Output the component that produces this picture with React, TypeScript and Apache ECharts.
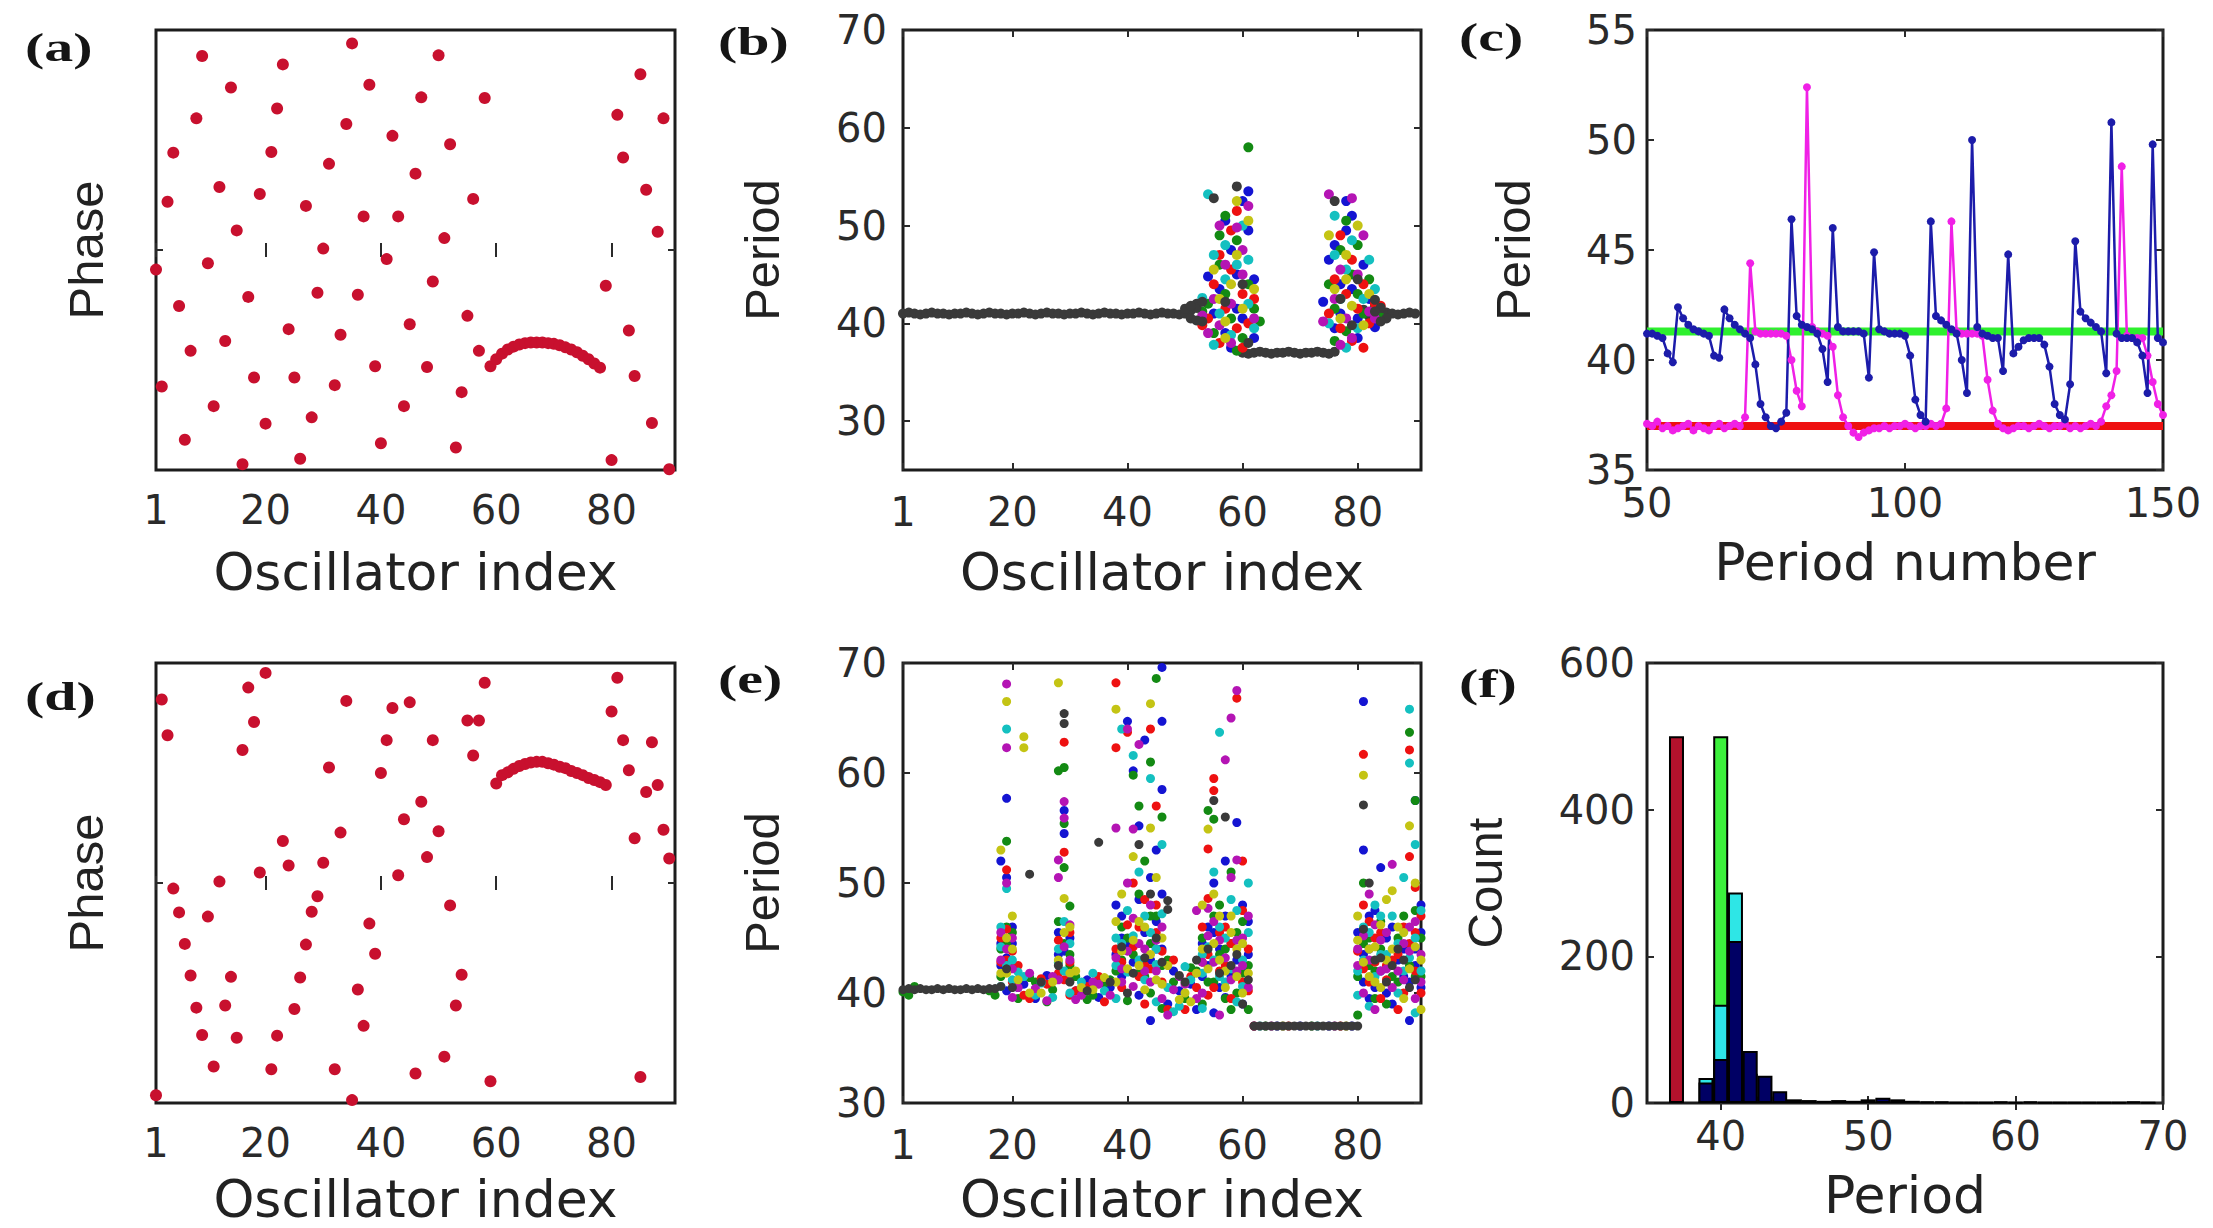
import React, { useEffect, useRef } from "react";
import * as echarts from "echarts";

// ---------------- data ----------------
const oscTicks = [1, 20, 40, 60, 80];
const phaseTicks = [0];
const periodTicksB = [30, 40, 50, 60, 70];
const periodTicksE = [30, 40, 50, 60, 70];
const periodTicksC = [35, 40, 45, 50, 55];
const periodNumTicks = [50, 100, 150];
const histXTicks = [40, 50, 60, 70];
const countTicks = [0, 200, 400, 600];

// (a) phases of oscillators 1..90 (radians)
const phaseA = [
  -0.28, -1.95, 0.69, 1.39, -0.8, -2.71, -1.44, 1.88, 2.77, -0.19,
  -2.23, 0.9, -1.3, 2.32, 0.28, -3.06, -0.67, -1.82, 0.8, -2.48,
  1.4, 2.02, 2.65, -1.13, -1.82, -2.98, 0.63, -2.39, -0.61, 0.02,
  1.23, -1.93, -1.21, 1.8, 2.95, -0.64, 0.48, 2.36, -1.66, -2.76,
  -0.13, 1.63, 0.48, -2.23, -1.06, 1.09, 2.18, -1.67, -0.45, 2.78,
  0.17, 1.51, -2.82, -2.03, -0.94, 0.73, -1.44, 2.17,
  -1.66, -1.56, -1.48, -1.42, -1.38, -1.35, -1.33, -1.32, -1.32, -1.32,
  -1.33, -1.34, -1.36, -1.39, -1.42, -1.46, -1.51, -1.56, -1.62, -1.68,
  -0.51, -3.0, 1.93, 1.32, -1.15, -1.8, 2.51, 0.86, -2.47, 0.26, 1.88, -3.13,
];

// (d) phases of oscillators 1..90 (radians)
const phaseD = [
  -3.03, 2.62, 2.11, -0.08, -0.42, -0.87, -1.32, -1.78, -2.17, -0.48,
  -2.62, 0.02, -1.75, -1.34, -2.21, 1.9, 2.79, 2.3, 0.15, 3.0,
  -2.66, -2.18, 0.6, 0.25, -1.8, -1.35, -0.88, -0.41, -0.19, 0.29,
  1.65, -2.66, 0.72, 2.6, -3.1, -1.52, -2.04, -0.58, -1.01, 1.57,
  2.04, 2.5, 0.11, 0.91, 2.58, -2.72, 1.16, 0.37, 2.04, 0.74,
  -2.48, -0.32, -1.75, -1.31, 2.32, 1.82, 2.32, 2.86, -2.83,
  1.42, 1.54, 1.58, 1.63, 1.67, 1.7, 1.72, 1.73, 1.73, 1.71,
  1.69, 1.66, 1.64, 1.6, 1.57, 1.54, 1.5, 1.47, 1.44, 1.4,
  2.45, 2.93, 2.04, 1.61, 0.64, -2.77, 1.3, 2.01, 1.4, 0.76, 0.35,
];

// (b) periods per oscillator
const bBlackBand = [
  41.0, 41.1, 41.0, 40.9, 41.0, 41.1, 41.0, 41.0, 40.9, 41.0,
  41.0, 41.1, 41.0, 40.9, 41.0, 41.1, 41.0, 41.0, 40.9, 41.0,
  41.0, 41.1, 41.0, 40.9, 41.0, 41.1, 41.0, 41.0, 40.9, 41.0,
  41.0, 41.1, 41.0, 40.9, 41.0, 41.1, 41.0, 41.0, 40.9, 41.0,
  41.0, 41.1, 41.0, 40.9, 41.0, 41.1, 41.0, 41.0, 40.9, 41.0,
  41.3, 41.6, 40.6, null, null, null, null, null, null,
  37.0, 36.9, 37.0, 37.1, 37.0, 36.9, 37.0, 37.0, 37.1, 37.0, 36.9, 37.0, 37.0, 37.1, 37.0, 36.9, 37.1,
  null, null, null, null,
  41.4, 40.7, 41.2, 41.0, 41.1, 41.0, 40.9, 41.0, 41.1, 41.0,
];
const bBlue = [
  [55, 41], [56, 43.5], [57, 39.0], [58, 47.5], [59, 45], [60, 52.5], [61, 49.5], [61, 53.5], [62, 44.5], [62, 38.5], [60, 40.5], [58, 37.5], [57, 50.5], [59, 41.5], [53, 40.2], [54, 44.8],
  [75, 46.5], [76, 39.5], [77, 44], [78, 52.5], [78, 49.5], [79, 51], [79, 43.5], [80, 38.5], [81, 46], [77, 41], [80, 40.5], [82, 42.5], [76, 48], [83, 39.6], [74, 42.2],
];
const bGreen = [
  [54, 42], [55, 39], [56, 46], [57, 43], [58, 40.5], [59, 48.5], [60, 38.5], [61, 58], [61, 44], [62, 41.5], [57, 51], [59, 37.2], [56, 49], [53, 41.2], [63, 40.2],
  [75, 44], [76, 41.5], [77, 47.5], [78, 39.2], [79, 45], [80, 43], [81, 41], [82, 44.5], [78, 50.5], [76, 38.2], [80, 48], [83, 41.8], [84, 40.6],
];
const bRed = [
  [54, 40.5], [55, 44], [56, 38], [57, 41.5], [58, 45.5], [59, 39.5], [60, 43], [61, 40], [62, 42.5], [58, 49.5], [56, 47], [60, 37.5], [59, 51.5], [53, 39.8],
  [75, 41], [76, 44.5], [77, 39.5], [78, 43], [79, 46.5], [80, 41.5], [81, 44], [82, 40], [79, 38.2], [77, 49], [81, 37.5], [83, 42], [84, 41.8],
];
const bCyan = [
  [54, 53.2], [55, 47], [56, 41], [57, 44.5], [58, 38.8], [59, 46], [60, 50], [61, 42], [62, 39.5], [57, 48], [55, 37.8], [61, 46.5], [53, 42.6],
  [75, 40], [76, 47], [77, 42.5], [78, 45.5], [79, 48.5], [80, 39.5], [81, 42.5], [82, 46.5], [76, 51], [83, 43.5], [78, 37.5],
];
const bMagenta = [
  [53, 40.8], [54, 39], [55, 42.5], [56, 50], [57, 46], [58, 42], [59, 49.8], [60, 45], [61, 52], [62, 40.5], [58, 38], [56, 39.8], [60, 47.5],
  [74, 40.2], [75, 53.2], [76, 42.5], [77, 45.5], [78, 40.5], [79, 38.5], [80, 45], [81, 49], [82, 41.2], [79, 52.8], [77, 37.8], [83, 40.5],
];
const bYellow = [
  [55, 45.5], [56, 42.5], [57, 40.2], [58, 44], [59, 47], [60, 41.5], [61, 50.5], [62, 43.5], [57, 38.5], [59, 52.5],
  [75, 49], [76, 43.5], [77, 40.5], [78, 47], [79, 41.8], [80, 50], [81, 39.8], [82, 43], [78, 44.5],
];
const bBlackExtra = [
  [50, 41.5], [51, 40.5], [52, 42], [53, 40.2], [52, 41.6], [51, 41.8], [52, 40.3], [53, 42.2], [59, 54], [55, 52.8], [57, 42.2], [61, 38.0], [60, 44],
  [77, 42.5], [79, 39.8], [80, 44.5], [76, 52.5], [84, 41.6], [85, 40.5], [83, 41.2], [84, 40.2], [83, 42.4],
];

// (c) period vs period number (50..150)
const cStart = 50;
const cGreen = [
  41.3, 41.3, 41.3, 41.3, 41.3, 41.3, 41.3, 41.3, 41.3, 41.3,
  41.3, 41.3, 41.3, 41.3, 41.3, 41.3, 41.3, 41.3, 41.3, 41.3,
  41.3, 41.3, 41.3, 41.3, 41.3, 41.3, 41.3, 41.3, 41.3, 41.3,
  41.3, 41.3, 41.3, 41.3, 41.3, 41.3, 41.3, 41.3, 41.3, 41.3,
  41.3, 41.3, 41.3, 41.3, 41.3, 41.3, 41.3, 41.3, 41.3, 41.3,
  41.3, 41.3, 41.3, 41.3, 41.3, 41.3, 41.3, 41.3, 41.3, 41.3,
  41.3, 41.3, 41.3, 41.3, 41.3, 41.3, 41.3, 41.3, 41.3, 41.3,
  41.3, 41.3, 41.3, 41.3, 41.3, 41.3, 41.3, 41.3, 41.3, 41.3,
  41.3, 41.3, 41.3, 41.3, 41.3, 41.3, 41.3, 41.3, 41.3, 41.3,
  41.3, 41.3, 41.3, 41.3, 41.3, 41.3, 41.3, 41.3, 41.3, 41.3,
  41.3,
];
const cRed = [
  37.0, 37.0, 37.0, 37.0, 37.0, 37.0, 37.0, 37.0, 37.0, 37.0,
  37.0, 37.0, 37.0, 37.0, 37.0, 37.0, 37.0, 37.0, 37.0, 37.0,
  37.0, 37.0, 37.0, 37.0, 37.0, 37.0, 37.0, 37.0, 37.0, 37.0,
  37.0, 37.0, 37.0, 37.0, 37.0, 37.0, 37.0, 37.0, 37.0, 37.0,
  37.0, 37.0, 37.0, 37.0, 37.0, 37.0, 37.0, 37.0, 37.0, 37.0,
  37.0, 37.0, 37.0, 37.0, 37.0, 37.0, 37.0, 37.0, 37.0, 37.0,
  37.0, 37.0, 37.0, 37.0, 37.0, 37.0, 37.0, 37.0, 37.0, 37.0,
  37.0, 37.0, 37.0, 37.0, 37.0, 37.0, 37.0, 37.0, 37.0, 37.0,
  37.0, 37.0, 37.0, 37.0, 37.0, 37.0, 37.0, 37.0, 37.0, 37.0,
  37.0, 37.0, 37.0, 37.0, 37.0, 37.0, 37.0, 37.0, 37.0, 37.0,
  37.0,
];
const cMagenta = [
  37.1, 37.0, 37.2, 36.9, 37.0, 36.8, 36.9, 37.0, 37.1, 36.8,
  37.0, 36.9, 36.8, 37.0, 37.1, 36.9, 37.0, 37.1, 37.0, 37.4,
  44.4, 41.3, 41.2, 41.2, 41.2, 41.2, 41.2, 41.1, 40.0, 38.6,
  37.9, 52.4, 41.5, 41.3, 41.2, 41.1, 40.6, 38.4, 37.4, 37.0,
  36.7, 36.5, 36.7, 36.8, 36.9, 36.9, 37.0, 36.9, 37.0, 37.0,
  37.1, 37.0, 36.9, 37.0, 37.0, 37.1, 37.0, 37.1, 37.8, 46.3,
  41.3, 41.2, 41.2, 41.2, 41.2, 41.1, 39.1, 37.7, 37.1, 36.9,
  36.8, 36.9, 37.0, 37.0, 36.9, 37.0, 37.1, 37.0, 36.9, 37.0,
  37.0, 37.1, 36.9, 37.0, 36.9, 37.0, 37.1, 37.0, 37.2, 37.9,
  38.4, 39.5, 48.8, 41.1, 41.0, 41.0, 41.0, 40.2, 39.0, 38.0,
  37.5,
];
const cBlue = [
  41.2, 41.2, 41.1, 41.0, 40.3, 39.9, 42.4, 41.9, 41.6, 41.4,
  41.3, 41.2, 41.1, 40.2, 40.1, 42.3, 41.9, 41.6, 41.4, 41.2,
  41.0, 39.8, 38.0, 37.4, 37.0, 36.9, 37.2, 37.6, 46.4, 42.0,
  41.6, 41.5, 41.4, 41.2, 40.5, 39.0, 46.0, 41.5, 41.3, 41.3,
  41.3, 41.3, 41.2, 39.2, 44.9, 41.4, 41.3, 41.2, 41.2, 41.2,
  41.1, 40.2, 38.2, 37.5, 37.2, 46.3, 42.0, 41.8, 41.6, 41.4,
  41.2, 40.0, 38.5, 50.0, 41.5, 41.2, 41.1, 41.0, 41.0, 39.5,
  44.8, 40.3, 40.6, 40.9, 41.0, 41.0, 41.0, 40.7, 39.7, 38.0,
  37.5, 37.3, 38.9, 45.4, 42.2, 41.9, 41.7, 41.5, 41.3, 39.4,
  50.8, 41.2, 41.0, 41.0, 41.0, 40.8, 40.2, 38.5, 49.8, 41.0,
  40.8,
];

// (e) periods per oscillator
const eBlue = [
  [19, 57.7], [18, 52], [19, 50.5], [20, 44.5], [18, 42.5], [19, 40.2], [22, 40.8], [24, 39.5], [26, 41.6], [28, 43.5],
  [29, 56.6], [29, 54.5], [30, 45], [31, 40.2], [33, 41.2], [35, 39.6], [37, 40.5], [38, 48], [39, 45], [39, 41.5],
  [40, 64.7], [41, 60.2], [42, 55.2], [42, 39.8], [43, 63], [44, 50.5], [44, 37.5], [45, 53], [46, 69.6], [46, 64.7],
  [46, 58.5], [46, 49], [45, 44], [47, 39], [48, 42], [49, 40.2], [51, 40.8], [52, 38.5], [53, 41.5], [54, 46],
  [55, 50], [55, 38.2], [56, 44], [57, 52], [57, 39.6], [58, 41.5], [59, 55.5], [60, 48], [61, 43.5], [60, 39],
  [62, 37], [66, 37], [70, 37], [75, 37], [79, 37], [81, 66.5], [81, 53], [82, 47], [81, 43.5], [82, 39.5],
  [83, 40.5], [84, 51.4], [85, 45], [86, 39], [87, 43], [88, 41.5], [89, 37.5], [90, 57.5], [91, 48], [90, 44], [91, 40.5],
  [18, 44.5], [19, 43.2], [20, 46], [21, 40.5], [28, 45.5], [29, 43.8], [30, 41.5], [38, 43.5], [39, 47], [40, 44.5],
  [41, 42.8], [42, 48.5], [43, 45.5], [44, 43], [45, 46.5], [46, 44], [53, 44.5], [54, 42.5], [55, 45.5], [56, 40.5],
  [57, 47], [58, 44.5], [59, 43], [60, 42], [61, 46.5], [80, 45.5], [81, 41], [82, 44], [83, 47.5], [84, 42],
  [85, 40], [86, 46], [88, 44], [89, 41], [90, 42.5], [91, 45.5],
];
const eGreen = [
  [1, 40.1], [2, 39.8], [3, 40.6], [16, 40.2], [17, 39.8], [18, 44], [19, 53.8], [19, 46], [20, 42.5], [21, 39.5],
  [23, 41.4], [24, 41], [26, 39.2], [27, 40.3], [28, 60.2], [29, 60.5], [29, 55.4], [29, 51.4], [30, 47.9], [30, 42.5],
  [31, 41.5], [33, 39.4], [34, 39.8], [36, 40.9], [37, 41.2], [39, 43], [40, 39.3], [41, 59.8], [42, 57], [42, 41.8],
  [43, 52], [44, 47], [44, 40], [45, 68.6], [44, 61], [46, 56], [46, 38.6], [47, 43], [48, 41], [50, 39.5],
  [51, 42.3], [52, 42], [53, 39], [54, 56.6], [55, 55.8], [55, 41], [56, 48], [57, 44], [58, 51], [58, 38.5],
  [59, 40], [60, 46.5], [61, 38.5], [64, 37], [72, 37], [80, 38], [81, 50], [82, 45], [83, 42], [84, 46.5],
  [85, 39], [87, 41], [88, 47], [89, 63.7], [90, 57.5], [91, 45], [90, 41.5],
  [18, 41.5], [19, 44.5], [20, 45.5], [28, 46.5], [29, 44.5], [30, 43.5], [38, 42], [39, 46], [40, 45], [41, 43.5],
  [42, 49], [43, 41.5], [44, 44.5], [45, 47], [46, 42.5], [53, 45], [54, 41], [55, 47], [56, 43.5], [57, 39.5],
  [59, 45.5], [60, 41.8], [61, 42.5], [80, 41.5], [81, 44.5], [82, 42.5], [83, 39.5], [84, 44], [86, 41.5], [87, 45],
  [89, 42.5], [90, 47.5], [91, 41.5],
];
const eRed = [
  [18, 45], [19, 51.2], [19, 43], [20, 41], [21, 42.5], [22, 39.8], [23, 39.5], [25, 41.3], [26, 40.8], [28, 41.8],
  [29, 62.8], [29, 52.8], [30, 45.5], [30, 39.8], [31, 40.2], [33, 40.6], [35, 41.5], [36, 39.2], [38, 68.2], [38, 62.3],
  [39, 40.5], [40, 63.7], [41, 50], [42, 46], [43, 42.5], [43, 39], [44, 64], [45, 57], [45, 48], [46, 41],
  [47, 38.5], [48, 43], [50, 38.5], [51, 41.5], [52, 40.5], [53, 42.8], [55, 59.5], [55, 58.4], [54, 53.1], [54, 48.6],
  [54, 39.8], [56, 42], [57, 46], [58, 39.5], [59, 66.8], [60, 52], [60, 41], [61, 44], [62, 37], [68, 37],
  [77, 37], [81, 61.7], [81, 48], [82, 41], [83, 45], [84, 39.5], [85, 42.5], [86, 43], [87, 38.5], [88, 40],
  [89, 62.1], [89, 52.4], [90, 49.6], [91, 40], [90, 45.5],
  [18, 42.8], [19, 45.8], [20, 43.8], [28, 44.8], [29, 41.2], [30, 42.8], [38, 44], [39, 42.8], [40, 46.2], [41, 44.2],
  [42, 41.5], [43, 48.5], [44, 42.2], [45, 45.5], [46, 43.8], [53, 46], [54, 43.5], [55, 40.5], [56, 45.5], [57, 42.5],
  [58, 44.5], [59, 41.8], [60, 47.5], [61, 40.2], [80, 43.8], [81, 42.2], [82, 46.5], [83, 42.8], [84, 45.5], [85, 41.2],
  [87, 43.5], [88, 46], [89, 44.5], [90, 42], [91, 47],
];
const eCyan = [
  [18, 46], [19, 64], [19, 49.5], [18, 40.6], [20, 43], [21, 41.9], [22, 41.5], [24, 39.8], [25, 40.9], [27, 39.6],
  [28, 44], [29, 42], [30, 40], [32, 41], [34, 41.8], [36, 40.2], [38, 45], [38, 39.5], [39, 64], [40, 41.9],
  [41, 61.6], [42, 51], [43, 47], [44, 59.5], [45, 44], [45, 39.2], [46, 53.5], [47, 40.5], [48, 38.3], [49, 38.8],
  [50, 42.4], [51, 41.2], [53, 43.5], [53, 38.6], [56, 63.7], [55, 51], [56, 46], [57, 41], [58, 48.5], [59, 39.2],
  [60, 43], [61, 50], [63, 37], [73, 37], [80, 42], [81, 46], [82, 38.8], [83, 48], [84, 43.5], [86, 47],
  [87, 40], [88, 50.5], [89, 65.8], [89, 60.9], [90, 53.5], [91, 42], [90, 38.2],
  [18, 44.2], [19, 42.5], [20, 41.2], [28, 42.8], [29, 46.5], [30, 44.5], [38, 42.5], [39, 44.5], [40, 47.5], [41, 45.2],
  [42, 43], [43, 41.2], [44, 45.5], [45, 42.6], [46, 47.2], [53, 41.8], [54, 44.2], [55, 43], [56, 41.5], [57, 45],
  [58, 42.2], [59, 47.5], [60, 40.6], [61, 45.5], [80, 39.8], [81, 43], [82, 45.5], [83, 41.5], [84, 47], [85, 43.5],
  [87, 44.5], [88, 42], [89, 43.2], [90, 45], [91, 47.5],
];
const eMagenta = [
  [18, 43], [19, 68.1], [19, 62.3], [19, 50], [20, 45], [20, 39.6], [21, 40.5], [23, 41.8], [24, 40.4], [26, 39.3],
  [27, 41.5], [29, 57.4], [29, 55.9], [28, 52.1], [28, 50.5], [30, 43], [31, 39.4], [32, 39.8], [34, 41], [35, 40.8],
  [37, 39.8], [38, 55], [39, 42.2], [40, 64], [40, 50], [41, 54.9], [41, 40.6], [42, 62.6], [43, 44], [44, 48],
  [45, 42], [46, 39.5], [47, 38], [48, 40.3], [49, 41.5], [50, 40.8], [52, 47.5], [52, 39.5], [53, 40], [54, 47.7],
  [55, 42.8], [56, 38], [57, 61.2], [58, 65], [58, 50.5], [59, 67.5], [59, 52.1], [59, 42], [60, 45], [61, 40.5],
  [65, 37], [76, 37], [80, 44], [81, 40], [82, 49], [83, 38.5], [84, 42], [85, 45.5], [86, 51.7], [87, 42],
  [88, 44.5], [89, 46], [90, 39.5], [91, 43.5],
  [18, 45.5], [19, 44], [20, 42.2], [28, 41.2], [29, 44.2], [30, 46.2], [38, 43.2], [39, 41], [40, 43.8], [41, 46.8],
  [42, 44.5], [43, 42], [44, 41], [45, 44.8], [46, 46], [53, 42.8], [54, 45.2], [55, 46.5], [56, 44.8], [57, 43.2],
  [58, 41.2], [59, 44.8], [60, 42.5], [61, 47], [80, 42.5], [81, 45.2], [82, 43], [83, 46.2], [84, 44.8], [85, 42.2],
  [86, 40.5], [88, 41.2], [89, 43.8], [90, 46.5], [91, 41],
];
const eYellow = [
  [19, 66.5], [18, 53], [20, 47], [19, 41.8], [22, 63.3], [22, 62.3], [21, 41.2], [23, 40], [25, 40], [27, 41],
  [28, 68.2], [29, 48.6], [30, 46], [31, 42], [32, 40.5], [34, 40.3], [36, 41.4], [38, 65.8], [38, 41], [39, 49],
  [41, 52.4], [42, 46.5], [43, 40.3], [44, 66.3], [44, 55], [45, 50.5], [46, 40.8], [47, 42.5], [49, 39.4], [50, 40],
  [51, 39.2], [52, 41.8], [53, 48], [54, 54.9], [55, 49], [56, 43], [57, 40.5], [58, 47], [59, 44], [60, 40],
  [67, 37], [78, 37], [80, 47], [81, 59.8], [82, 44], [83, 41], [84, 40.5], [85, 48.5], [86, 49.3], [87, 46],
  [88, 39.5], [89, 55.2], [90, 50], [91, 38.5],
  [18, 41.8], [19, 45], [20, 44], [28, 43], [29, 45.5], [30, 41.8], [38, 46.5], [39, 43.8], [40, 42.2], [41, 44.8],
  [42, 42.5], [43, 46], [44, 43.5], [45, 41.2], [46, 45], [53, 44], [54, 42.2], [55, 44.5], [56, 47], [57, 42],
  [58, 45.5], [59, 41.5], [60, 44.5], [61, 41.8], [80, 44.8], [81, 42.8], [82, 41.5], [83, 44.2], [84, 46.2], [85, 43],
  [86, 44], [88, 45.5], [89, 42.2], [90, 44.2], [91, 43],
];
const eBlack = [
  [1, 40.3], [2, 40.4], [3, 40.3], [4, 40.4], [5, 40.3], [6, 40.3], [7, 40.4], [8, 40.3], [9, 40.4], [10, 40.3],
  [11, 40.3], [12, 40.4], [13, 40.3], [14, 40.4], [15, 40.3], [16, 40.4], [17, 40.4],
  [18, 40.6], [20, 40.5], [23, 50.8], [25, 41], [29, 65.4], [29, 64.5], [30, 41], [33, 40.2], [35, 53.7], [37, 41],
  [40, 40], [42, 53.5], [44, 49], [45, 45], [47, 48.4], [47, 47.6], [49, 41.6], [50, 41], [52, 43], [55, 57.5],
  [57, 56], [58, 42.5], [60, 39],
  [62, 37], [63, 37], [64, 37], [65, 37], [66, 37], [67, 37], [68, 37], [69, 37], [70, 37], [71, 37],
  [72, 37], [73, 37], [74, 37], [75, 37], [76, 37], [77, 37], [78, 37], [79, 37], [80, 37],
  [81, 57.1], [82, 50], [83, 43], [85, 41], [87, 44], [89, 40.5],
  [19, 42.2], [28, 42.5], [39, 44.2], [41, 41.8], [43, 43.2], [46, 42.8], [54, 44], [56, 41.8], [59, 43.5], [61, 41.2],
  [81, 45.8], [84, 43.2], [86, 42.5], [88, 43], [90, 41.2],
];

// (f) histograms of periods
const fRedBins = [37];
const fRedCounts = [500];
const fGreenBins = [40];
const fGreenCounts = [500];
const fCyanBins = [39, 40, 41, 42, 43];
const fCyanCounts = [34, 134, 287, 40, 9];
const fNavyBins = [
  39, 40, 41, 42, 43, 44, 45, 46, 47, 48, 49, 50, 51, 52, 53, 54,
  55, 56, 57, 58, 59, 60, 61, 62, 63, 64, 65, 66, 67, 68, 69,
];
const fNavyCounts = [
  28, 60, 221, 71, 37, 16, 5, 4, 3, 4, 3, 5, 7, 5, 3, 2,
  2, 1, 1, 1, 2, 1, 2, 1, 1, 1, 1, 1, 1, 2, 1,
];

const panelLetters = ["(a)", "(b)", "(c)", "(d)", "(e)", "(f)"];

// ---------------- layout / style ----------------
const PANELS = [
  { left: 156, top: 30, width: 519, height: 440 },
  { left: 903, top: 30, width: 518, height: 440 },
  { left: 1647, top: 30, width: 516, height: 440 },
  { left: 156, top: 663, width: 519, height: 440 },
  { left: 903, top: 663, width: 518, height: 440 },
  { left: 1647, top: 663, width: 516, height: 440 },
];
const LETTER_POS = [
  [25, 48], [718, 42], [1459, 38], [25, 697], [718, 680], [1459, 684],
];

const ML = {
  b: "#1414d2",
  g: "#138a13",
  r: "#ee1111",
  c: "#14c0c0",
  m: "#b414b4",
  y: "#c4c414",
  k: "#3a3a3a",
};

const TICK_COLOR = "#2a2a2a";
const LABEL_FONT = "DejaVu Sans";

function tick(values: number[]) {
  return {
    show: true,
    inside: true,
    length: 7,
    customValues: values,
    lineStyle: { color: TICK_COLOR, width: 2 },
  };
}

type AxCfg = {
  min: number;
  max: number;
  ticks: number[];
  labels: boolean;
  margin?: number;
  name: string;
  gap: number;
};

function mainAxis(gi: number, position: string, c: AxCfg) {
  const isX = position === "bottom";
  return {
    type: "value",
    gridIndex: gi,
    position,
    min: c.min,
    max: c.max,
    axisLine: { show: false },
    splitLine: { show: false },
    axisTick: tick(c.ticks),
    axisLabel: c.labels
      ? {
          show: true,
          customValues: c.ticks,
          fontFamily: LABEL_FONT,
          fontSize: 40,
          color: "#2a2a2a",
          margin: c.margin,
        }
      : { show: false },
    name: c.name,
    nameLocation: "middle",
    nameGap: c.gap,
    nameTextStyle: isX
      ? { fontFamily: LABEL_FONT, fontSize: 52, lineHeight: 52, color: "#222" }
      : { fontFamily: "Liberation Sans", fontSize: 49, lineHeight: 49, color: "#222" },
  };
}

function mirrorAxis(gi: number, position: string, c: AxCfg) {
  return {
    type: "value",
    gridIndex: gi,
    position,
    min: c.min,
    max: c.max,
    axisLine: { show: false },
    splitLine: { show: false },
    axisTick: tick(c.ticks),
    axisLabel: { show: false },
  };
}

const AXES: { x: AxCfg; y: AxCfg }[] = [
  {
    x: { min: 1, max: 91, ticks: oscTicks, labels: true, margin: 20, name: "Oscillator index", gap: 76 },
    y: { min: -Math.PI, max: Math.PI, ticks: phaseTicks, labels: false, name: "Phase", gap: 46 },
  },
  {
    x: { min: 1, max: 91, ticks: oscTicks, labels: true, margin: 22, name: "Oscillator index", gap: 76 },
    y: { min: 25, max: 70, ticks: periodTicksB, labels: true, margin: 16, name: "Period", gap: 117 },
  },
  {
    x: { min: 50, max: 150, ticks: periodNumTicks, labels: true, margin: 13, name: "Period number", gap: 66 },
    y: { min: 35, max: 55, ticks: periodTicksC, labels: true, margin: 10, name: "Period", gap: 110 },
  },
  {
    x: { min: 1, max: 91, ticks: oscTicks, labels: true, margin: 20, name: "Oscillator index", gap: 70 },
    y: { min: -Math.PI, max: Math.PI, ticks: phaseTicks, labels: false, name: "Phase", gap: 46 },
  },
  {
    x: { min: 1, max: 91, ticks: oscTicks, labels: true, margin: 22, name: "Oscillator index", gap: 70 },
    y: { min: 30, max: 70, ticks: periodTicksE, labels: true, margin: 16, name: "Period", gap: 117 },
  },
  {
    x: { min: 35, max: 70, ticks: histXTicks, labels: true, margin: 13, name: "Period", gap: 66 },
    y: { min: 0, max: 600, ticks: countTicks, labels: true, margin: 12, name: "Count", gap: 138 },
  },
];

function scatter(gi: number, data: any[], color: string, size: number) {
  return {
    type: "scatter",
    xAxisIndex: gi * 2,
    yAxisIndex: gi * 2,
    data,
    symbol: "circle",
    symbolSize: size,
    itemStyle: { color, opacity: 1 },
    silent: true,
  };
}

function indexed(values: (number | null)[], start: number) {
  const out: number[][] = [];
  values.forEach((v, i) => {
    if (v !== null) out.push([start + i, v]);
  });
  return out;
}

function pairs(xs: number[], ys: number[]) {
  return xs.map((x, i) => [x, ys[i]]);
}

function bars(gi: number, data: number[][], color: string) {
  return {
    type: "bar",
    xAxisIndex: gi * 2,
    yAxisIndex: gi * 2,
    data,
    barWidth: 15,
    barGap: "-100%",
    itemStyle: { color, borderColor: "#000", borderWidth: 2 },
    silent: true,
  };
}

function cLine(values: number[], color: string, width: number, markers: boolean) {
  return {
    type: "line",
    xAxisIndex: 4,
    yAxisIndex: 4,
    data: indexed(values, cStart),
    symbol: markers ? "circle" : "none",
    showSymbol: markers,
    symbolSize: 8,
    lineStyle: { color, width },
    itemStyle: { color },
    silent: true,
  };
}

function buildOption() {
  const grid = PANELS.map((p) => ({
    ...p,
    show: true,
    borderColor: "#1c1c1c",
    borderWidth: 3,
    backgroundColor: "transparent",
  }));
  const xAxis: any[] = [];
  const yAxis: any[] = [];
  AXES.forEach((ax, gi) => {
    xAxis.push(mainAxis(gi, "bottom", ax.x), mirrorAxis(gi, "top", ax.x));
    yAxis.push(mainAxis(gi, "left", ax.y), mirrorAxis(gi, "right", ax.y));
  });

  const series: any[] = [
    // (a)
    scatter(0, indexed(phaseA, 1), "#c8102e", 12),
    // (b)
    scatter(1, indexed(bBlackBand, 1), ML.k, 10),
    scatter(1, bBlue, ML.b, 10),
    scatter(1, bGreen, ML.g, 10),
    scatter(1, bRed, ML.r, 10),
    scatter(1, bCyan, ML.c, 10),
    scatter(1, bMagenta, ML.m, 10),
    scatter(1, bYellow, ML.y, 10),
    scatter(1, bBlackExtra, ML.k, 10),
    // (c)
    cLine(cGreen, "#2ef02e", 8, false),
    cLine(cRed, "#ee1010", 8, false),
    cLine(cMagenta, "#f020e6", 2.5, true),
    cLine(cBlue, "#1c1caa", 2.5, true),
    // (d)
    scatter(3, indexed(phaseD, 1), "#c8102e", 12),
    // (e)
    scatter(4, eBlue, ML.b, 9),
    scatter(4, eGreen, ML.g, 9),
    scatter(4, eRed, ML.r, 9),
    scatter(4, eCyan, ML.c, 9),
    scatter(4, eMagenta, ML.m, 9),
    scatter(4, eYellow, ML.y, 9),
    scatter(4, eBlack, ML.k, 9),
    // (f)
    bars(5, pairs(fRedBins, fRedCounts), "#b3122c"),
    bars(5, pairs(fGreenBins, fGreenCounts), "#3cf03c"),
    bars(5, pairs(fCyanBins, fCyanCounts), "#2ee6e6"),
    bars(5, pairs(fNavyBins, fNavyCounts), "#000064"),
  ];

  const graphic = panelLetters.map((t, i) => ({
    type: "text",
    x: LETTER_POS[i][0],
    y: LETTER_POS[i][1],
    scaleX: 1.45,
    silent: true,
    style: {
      text: t,
      font: 'bold 40px "Liberation Serif"',
      fill: "#151515",
      align: "left",
      verticalAlign: "middle",
    },
  }));

  return {
    animation: false,
    backgroundColor: "#ffffff",
    grid,
    xAxis,
    yAxis,
    series,
    graphic,
  };
}

export default function App() {
  const ref = useRef<HTMLDivElement>(null);
  useEffect(() => {
    if (!ref.current) return;
    const chart = echarts.init(ref.current, null, { renderer: "svg" });
    chart.setOption(buildOption() as any);
    return () => chart.dispose();
  }, []);
  return (
    <div
      ref={ref}
      style={{ position: "absolute", left: 0, top: 0, width: 2213, height: 1228, background: "#fff" }}
    />
  );
}
